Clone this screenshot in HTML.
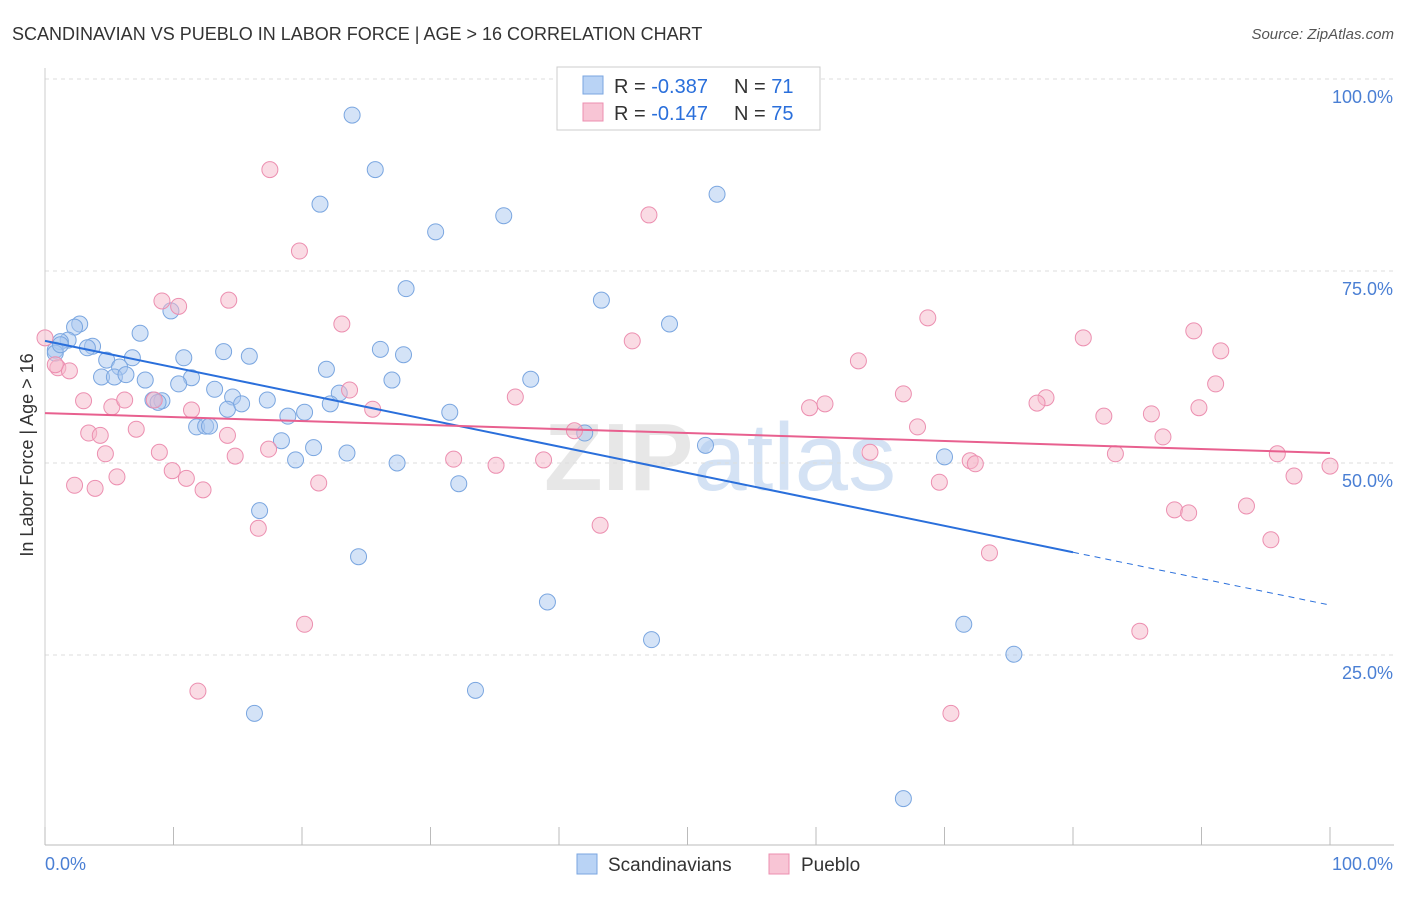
<!DOCTYPE html>
<html><head><meta charset="utf-8"><style>
body{margin:0;background:#fff;font-family:"Liberation Sans",sans-serif;}
svg text{font-family:"Liberation Sans",sans-serif;}
</style></head><body>
<svg id="chart" width="1406" height="892">
<text x="12" y="40" font-size="18" fill="#333">SCANDINAVIAN VS PUEBLO IN LABOR FORCE | AGE &gt; 16 CORRELATION CHART</text>
<text x="1394" y="39" font-size="15" fill="#555" font-style="italic" text-anchor="end">Source: ZipAtlas.com</text>
<text x="720" y="490" font-size="96" fill="#d8d8d8" text-anchor="middle" font-weight="bold" font-family="Liberation Serif" opacity="0.6">ZIP<tspan fill="#b8d0ee" font-weight="normal" font-family="Liberation Sans">atlas</tspan></text>
<g id="grid"></g><g id="pts"></g><g id="lines"></g>
<text x="33" y="455" font-size="18" fill="#333" text-anchor="middle" transform="rotate(-90 33 455)">In Labor Force | Age &gt; 16</text>
<g>
<rect x="557" y="67" width="263" height="63" fill="#fff" stroke="#ccc"/>
<rect x="583" y="76" width="20" height="18" fill="#b9d3f5" stroke="#7aa6e0"/>
<rect x="583" y="103" width="20" height="18" fill="#f8c5d5" stroke="#ec8fb0"/>
<text x="614" y="93" font-size="20" fill="#333">R = <tspan fill="#2a6fdb">-0.387</tspan><tspan x="734">N = </tspan><tspan fill="#2a6fdb">71</tspan></text>
<text x="614" y="120" font-size="20" fill="#333">R = <tspan fill="#2a6fdb"> -0.147</tspan><tspan x="734">N = </tspan><tspan fill="#2a6fdb">75</tspan></text>
</g>
<g>
<rect x="577" y="854" width="20" height="20" fill="#b9d3f5" stroke="#7aa6e0"/>
<text x="608" y="871" font-size="19" fill="#333">Scandinavians</text>
<rect x="769" y="854" width="20" height="20" fill="#f8c5d5" stroke="#ec8fb0"/>
<text x="801" y="871" font-size="19" fill="#333">Pueblo</text>
</g>
</svg>
<script>
const blueX=[23.9,25.7,21.4,35.7,52.3,30.4,28.1,43.3,9.8,48.6,2.7,2.3,7.4,1.8,1.2,3.7,0.8,3.3,26.1,27.9,13.9,15.9,10.8,4.8,6.8,5.8,21.9,4.4,5.4,6.3,11.4,7.8,10.4,27.0,37.8,13.2,22.9,14.6,17.3,8.4,9.1,14.2,15.3,22.2,18.9,20.2,31.5,11.8,12.5,12.8,42.0,18.4,20.9,23.5,19.5,27.4,51.4,70.0,32.2,16.7,24.4,39.1,47.2,71.5,75.4,33.5,16.3,66.8,0.8,1.2,8.8];
const blueY=[95.3,88.2,83.7,82.2,85.0,80.1,72.7,71.2,69.8,68.1,68.1,67.7,66.9,66.0,65.8,65.2,64.7,65.0,64.8,64.1,64.5,63.9,63.7,63.4,63.7,62.5,62.2,61.2,61.2,61.5,61.1,60.8,60.3,60.8,60.9,59.6,59.1,58.6,58.2,58.2,58.1,57.0,57.7,57.7,56.1,56.6,56.6,54.7,54.8,54.8,53.9,52.9,52.0,51.3,50.4,50.0,52.3,50.8,47.3,43.8,37.8,31.9,27.0,29.0,25.1,20.4,17.4,6.3,64.3,65.4,57.9];
const pinkX=[17.5,19.8,47.0,9.1,10.4,14.3,23.1,68.7,80.8,89.4,45.7,91.5,0,1.0,1.9,0.8,63.3,91.1,23.7,36.6,66.8,77.9,77.2,59.5,60.7,89.8,3.0,5.2,6.2,8.5,11.4,25.5,82.4,86.1,67.9,41.2,3.4,4.3,7.1,14.2,87.0,64.2,4.7,8.9,17.4,31.8,38.8,35.1,72.0,72.4,83.3,95.9,100,9.9,11.0,5.6,14.8,2.3,3.9,12.3,21.3,69.6,97.2,87.9,89.0,93.5,43.2,16.6,73.5,95.4,20.2,85.2,11.9,70.5];
const pinkY=[88.2,77.6,82.3,71.1,70.4,71.2,68.1,68.9,66.3,67.2,65.9,64.6,66.3,62.4,62.0,62.8,63.3,60.3,59.5,58.6,59.0,58.5,57.8,57.2,57.7,57.2,58.1,57.3,58.2,58.2,56.9,57.0,56.1,56.4,54.7,54.2,53.9,53.6,54.4,53.6,53.4,51.4,51.2,51.4,51.8,50.5,50.4,49.7,50.3,49.9,51.2,51.2,49.6,49.0,48.0,48.2,50.9,47.1,46.7,46.5,47.4,47.5,48.3,43.9,43.5,44.4,41.9,41.5,38.3,40.0,29.0,28.1,20.3,17.4];
const blueTrend=[65.9,-0.344]; // intercept, slope
const pinkTrend=[56.5,-0.052];
const yTicks=[25,50,75,100];
const xTicks=[0,10,20,30,40,50,60,70,80,90,100];
const NS="http://www.w3.org/2000/svg";
const sx=v=>45+v*12.85, sy=v=>847-v*7.68;
function mk(t,a,p){const e=document.createElementNS(NS,t);for(const k in a)e.setAttribute(k,a[k]);p.appendChild(e);return e;}
const grid=document.getElementById('grid');
yTicks.forEach(t=>{
 const l=mk('line',{x1:45,x2:1394,y1:sy(t),y2:sy(t),stroke:'#ddd','stroke-dasharray':'4,4'},grid);
 
 
 const tx=mk('text',{x:1393,y:sy(t)+24,'font-size':18,fill:'#4a7fd4','text-anchor':'end'},grid);
 tx.textContent=t.toFixed(1)+'%';
 
 
});
const ax=mk('line',{x1:45,x2:1394,y1:845,y2:845,stroke:'#bbb'},grid);


const ay=mk('line',{x1:45,x2:45,y1:68,y2:845,stroke:'#ccc'},grid);


xTicks.forEach(t=>{
 const l=mk('line',{x1:sx(t),x2:sx(t),y1:827,y2:845,stroke:'#bbb'},grid);
 
 
});
[[0,'start'],[100,'end']].forEach(([t,a])=>{
 const tx=mk('text',{x:t?1393:45,y:870,'font-size':18,fill:'#4a7fd4','text-anchor':a},grid);
 tx.textContent=t.toFixed(1)+'%';
 
 
});
const pts=document.getElementById('pts');
blueX.forEach((x,i)=>{
 const c=mk('circle',{cx:sx(x),cy:sy(blueY[i]),r:8,fill:'#a9c8f0','fill-opacity':0.5,stroke:'#7aa6e0','stroke-width':1},pts);
 
 
});
pinkX.forEach((x,i)=>{
 const c=mk('circle',{cx:sx(x),cy:sy(pinkY[i]),r:8,fill:'#f5b7c9','fill-opacity':0.5,stroke:'#ec8fb0','stroke-width':1},pts);
 
 
});
const lines=document.getElementById('lines');
const f=(t,x)=>t[0]+t[1]*x;
const b1=mk('line',{x1:sx(0),y1:sy(f(blueTrend,0)),x2:sx(80),y2:sy(f(blueTrend,80)),stroke:'#2a6fdb','stroke-width':2},lines);


const b2=mk('line',{x1:sx(80),y1:sy(f(blueTrend,80)),x2:sx(100),y2:sy(f(blueTrend,100)),stroke:'#2a6fdb','stroke-width':1,'stroke-dasharray':'6,5'},lines);


const p1=mk('line',{x1:sx(0),y1:sy(f(pinkTrend,0)),x2:sx(100),y2:sy(f(pinkTrend,100)),stroke:'#e8608f','stroke-width':2},lines);


</script>
</body></html>
